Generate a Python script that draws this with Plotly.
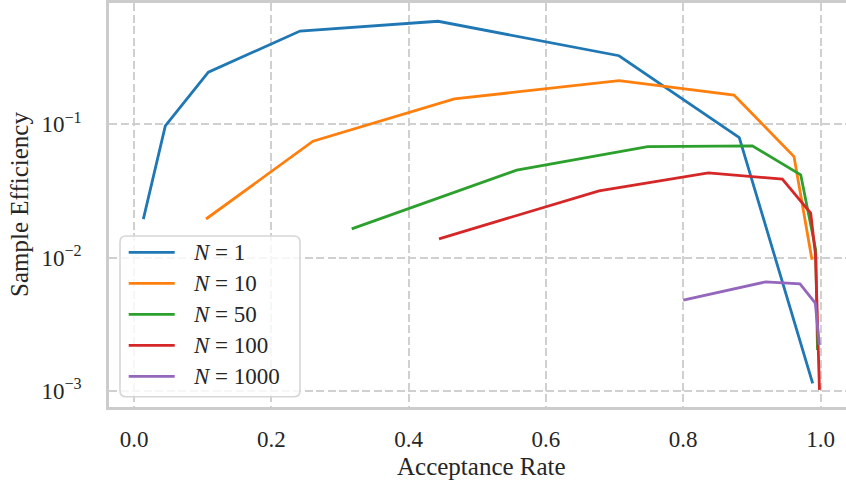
import plotly.graph_objects as go

# Acceptance rate vs. sample efficiency for different numbers of proposals N
n1_x = [0.0136, 0.0456, 0.1083, 0.2418, 0.4430, 0.7065, 0.8817, 0.9886]
n1_y = [0.01945, 0.0973, 0.246, 0.501, 0.593, 0.327, 0.0795, 0.00114]

n10_x = [0.1049, 0.2607, 0.4666, 0.7065, 0.8740, 0.9614, 0.9876]
n10_y = [0.0195, 0.0747, 0.155, 0.213, 0.166, 0.0573, 0.00963]

n50_x = [0.3171, 0.5575, 0.7483, 0.9007, 0.9712, 0.9930, 0.9956]
n50_y = [0.01644, 0.0453, 0.0681, 0.0689, 0.0418, 0.01145, 0.00203]

n100_x = [0.4443, 0.6774, 0.8366, 0.9444, 0.9857, 0.9927, 0.9985]
n100_y = [0.01384, 0.0317, 0.0433, 0.0388, 0.0216, 0.0105, 0.00102]

n1000_x = [0.8001, 0.9202, 0.9701, 0.9924, 0.9983]
n1000_y = [0.0048, 0.00659, 0.00637, 0.00456, 0.00222]

series_names = ["1", "10", "50", "100", "1000"]
series_x = [n1_x, n10_x, n50_x, n100_x, n1000_x]
series_y = [n1_y, n10_y, n50_y, n100_y, n1000_y]
colors = ["#1f77b4", "#ff7f0e", "#2ca02c", "#d62728", "#9467bd"]

x_ticks = [0.0, 0.2, 0.4, 0.6, 0.8, 1.0]
x_ticktext = ["0.0", "0.2", "0.4", "0.6", "0.8", "1.0"]
y_ticks = [1e-3, 1e-2, 1e-1]
y_ticktext = ["10<sup>−3</sup>", "10<sup>−2</sup>", "10<sup>−1</sup>"]

W, H = 846, 483
ML, MR, MT, MB = 109, 0, 3, 76
PW = W - ML - MR
PH = H - MT - MB

FONT = "Liberation Serif"
GRID = "#d0d0d0"
EDGE = "#cccccc"


def px(xp):
    return (xp - ML) / PW


def py(yp):
    return (H - MB - yp) / PH


fig = go.Figure()
for name, xs, ys, c in zip(series_names, series_x, series_y, colors):
    fig.add_trace(go.Scatter(x=xs, y=ys, mode="lines", name=f"N = {name}",
                             line=dict(color=c, width=2.8), showlegend=False))

fig.update_layout(
    width=W, height=H,
    margin=dict(l=ML, r=MR, t=MT, b=MB),
    paper_bgcolor="white", plot_bgcolor="white",
    font=dict(family=FONT, size=23, color="#262626"),
    xaxis=dict(range=[-0.03642, 1.03714], tickvals=x_ticks, ticktext=x_ticktext,
               showgrid=True, gridcolor=GRID, gridwidth=1.6, griddash="8px,3.5px",
               zeroline=False, showline=True, mirror=True, linecolor=EDGE, linewidth=2.5,
               ticks="", ticklabelstandoff=10),
    yaxis=dict(type="log", range=[-3.120, -0.090], tickvals=y_ticks, ticktext=y_ticktext,
               showgrid=True, gridcolor=GRID, gridwidth=1.6, griddash="8px,3.5px",
               zeroline=False, showline=True, mirror=False, linecolor=EDGE, linewidth=2.5,
               ticks="", ticklabelstandoff=20),
)

# axis titles
fig.add_annotation(text="Acceptance Rate", xref="paper", yref="paper",
                   x=px(481.5), y=py(467), xanchor="center", yanchor="middle",
                   showarrow=False, font=dict(family=FONT, size=25, color="#262626"))
fig.add_annotation(text="Sample Efficiency", xref="paper", yref="paper",
                   x=px(19), y=py(205), xanchor="center", yanchor="middle", textangle=-90,
                   showarrow=False, font=dict(family=FONT, size=25, color="#262626"))

# legend box
bx0, by0, bx1, by1, r = 120, 236, 300, 396.7, 6
path = (f"M {px(bx0 + r)},{py(by0)} L {px(bx1 - r)},{py(by0)} "
        f"Q {px(bx1)},{py(by0)} {px(bx1)},{py(by0 + r)} "
        f"L {px(bx1)},{py(by1 - r)} Q {px(bx1)},{py(by1)} {px(bx1 - r)},{py(by1)} "
        f"L {px(bx0 + r)},{py(by1)} Q {px(bx0)},{py(by1)} {px(bx0)},{py(by1 - r)} "
        f"L {px(bx0)},{py(by0 + r)} Q {px(bx0)},{py(by0)} {px(bx0 + r)},{py(by0)} Z")
fig.add_shape(type="path", path=path, xref="paper", yref="paper", layer="above",
              fillcolor="rgba(255,255,255,0.8)", line=dict(color="#d6d6d6", width=1.6))

row_y = [252.3, 283.3, 314.3, 345.3, 376.3]
for name, c, ry in zip(series_names, colors, row_y):
    fig.add_shape(type="line", xref="paper", yref="paper", layer="above",
                  x0=px(128.7), x1=px(174.7), y0=py(ry), y1=py(ry),
                  line=dict(color=c, width=2.8))
    fig.add_annotation(text=f"<i>N</i> = {name}", xref="paper", yref="paper",
                       x=px(191), y=py(ry), xanchor="left", yanchor="middle",
                       showarrow=False, font=dict(family=FONT, size=23, color="#262626"))

fig.write_html("out.html")
